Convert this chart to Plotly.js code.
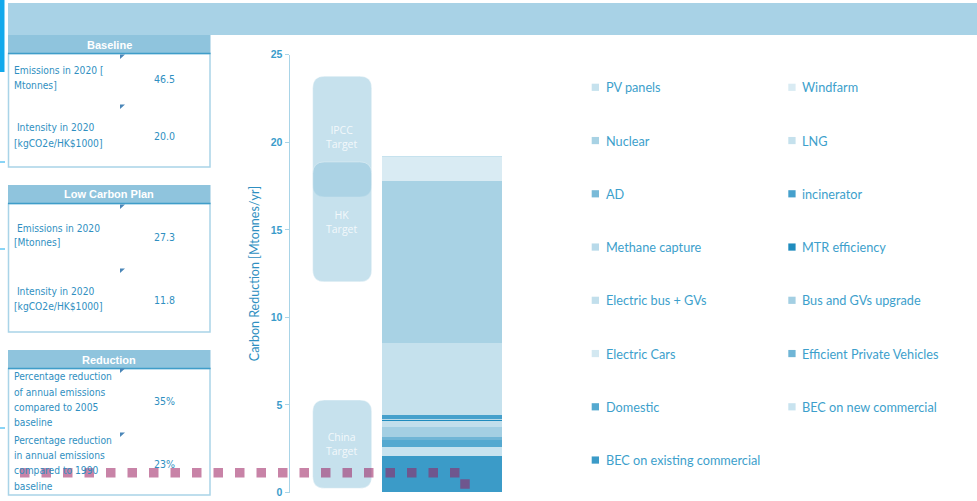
<!DOCTYPE html>
<html><head><meta charset="utf-8">
<script src="https://cdn.plot.ly/plotly-3.0.1.min.js"></script>
<style>html,body{margin:0;padding:0;background:#fff}#chart{width:977px;height:501px}</style>
</head><body><div id="chart"></div>
<script>
// ---- data (legend order: top of stack first) ----
const seriesNames = ["PV panels","Windfarm","Nuclear","LNG","AD","incinerator","Methane capture","MTR efficiency",
  "Electric bus + GVs","Bus and GVs upgrade","Electric Cars","Efficient Private Vehicles","Domestic",
  "BEC on new commercial","BEC on existing commercial"];
const seriesValues = [0.05,1.37,9.25,4.11,0.03,0.21,0.08,0.02,0.34,0.58,0.03,0.15,0.39,0.51,2.10];
const seriesColors = ["#c6e2ee","#d9ebf3","#a8d2e4","#c5e1ed","#79bad8","#45a0cc","#b8daea","#1f8cbe",
  "#c2dfec","#a3cfe3","#d3e8f1","#6fb5d6","#55a9d0","#c8e3ef","#3b9bc8"];
const targetNames = ["IPCC<br>Target","HK<br>Target","China<br>Target"];
const targetLow = [16.88,12.03,0.24];
const targetHigh = [23.77,18.88,5.28];
const yTicks = [0,5,10,15,20,25];
const tableTitles = ["Baseline","Low Carbon Plan","Reduction"];
const tableLabels = [
  [["Emissions in 2020 [","Mtonnes]"],[" Intensity in 2020","[kgCO2e/HK$1000]"]],
  [[" Emissions in 2020","[Mtonnes]"],[" Intensity in 2020","[kgCO2e/HK$1000]"]],
  [["Percentage reduction","of annual emissions","compared to 2005","baseline"],["Percentage reduction","in annual emissions","compared to 1990","baseline"]]
];
const tableValues = [["46.5","20.0"],["27.3","11.8"],["35%","23%"]];
const dashedLevel = 1.13;

// ---- layout helpers ----
const W=977,H=501;
const px = x => x/W, py = y => 1 - y/H;
const shapes=[], annotations=[];
const txtBlue="#3d9fcc";
const tabFont="Liberation Sans Narrow, DejaVu Sans Condensed, sans-serif";

// banner & left accents
shapes.push({type:"rect",xref:"paper",yref:"paper",x0:px(8),x1:px(977),y0:py(35),y1:py(3),fillcolor:"#a8d2e6",line:{width:0}});
shapes.push({type:"rect",xref:"paper",yref:"paper",x0:0,x1:px(4.5),y0:py(72),y1:py(0),fillcolor:"#12a9ec",line:{width:0}});
[162,249,428].forEach(y=>shapes.push({type:"line",xref:"paper",yref:"paper",x0:0,x1:px(5),y0:py(y),y1:py(y),line:{color:"#12a9ec",width:1}}));

// tables
const tabTop=[35,185,350], tabBot=[167,332,495];
const rowY=[[[71,86],[127,143]],[[228,243],[291,306]],[[376,392,407,422],[440,455,470,486]]];
const valY=[[79,136],[237,300],[401,464]];
const triY=[[56,106],[206,270],[370,434]];
for(let t=0;t<3;t++){
  const top=tabTop[t], hb=top+18.5, bot=tabBot[t];
  shapes.push({type:"rect",xref:"paper",yref:"paper",x0:px(8.5),x1:px(210),y0:py(bot),y1:py(hb),fillcolor:"rgba(0,0,0,0)",line:{color:"#a9d4e8",width:1.5}});
  shapes.push({type:"rect",xref:"paper",yref:"paper",x0:px(8),x1:px(210.5),y0:py(hb),y1:py(top),fillcolor:"#8fc4dd",line:{width:0}});
  shapes.push({type:"line",xref:"paper",yref:"paper",x0:px(8),x1:px(210.5),y0:py(hb),y1:py(hb),line:{color:"#3f9dc9",width:1.5}});
  annotations.push({xref:"paper",yref:"paper",x:px(109),y:py(top+9.5),text:"<b>"+tableTitles[t]+"</b>",showarrow:false,
    font:{family:"Liberation Sans, Arial, sans-serif",size:11,color:"#ffffff"},xanchor:"center",yanchor:"middle"});
  for(let r=0;r<2;r++){
    tableLabels[t][r].forEach((line,k)=>{
      annotations.push({xref:"paper",yref:"paper",x:px(12),y:py(rowY[t][r][k]),text:line,showarrow:false,xanchor:"left",yanchor:"middle",
        font:{family:tabFont,size:10.2,color:"#2f8fc1"}});
    });
    annotations.push({xref:"paper",yref:"paper",x:px(164),y:py(valY[t][r]),text:tableValues[t][r],showarrow:false,xanchor:"center",yanchor:"middle",
      font:{family:tabFont,size:10.5,color:"#2f8fc1"}});
    const ty=triY[t][r];
    shapes.push({type:"path",xref:"paper",yref:"paper",path:`M ${px(120)} ${py(ty-1.5)} L ${px(125)} ${py(ty-1.5)} L ${px(120)} ${py(ty+3)} Z`,fillcolor:"#4a86b8",line:{width:0}});
  }
}

// target rounded boxes (data coords)
const bx=0.2965, rx=0.12, ry=0.68;
for(let i=0;i<targetNames.length;i++){
  const x0=-bx,x1=bx,y0=targetLow[i],y1=targetHigh[i];
  const p=`M ${x0+rx},${y0} L ${x1-rx},${y0} Q ${x1},${y0} ${x1},${y0+ry} L ${x1},${y1-ry} Q ${x1},${y1} ${x1-rx},${y1} L ${x0+rx},${y1} Q ${x0},${y1} ${x0},${y1-ry} L ${x0},${y0+ry} Q ${x0},${y0} ${x0+rx},${y0} Z`;
  shapes.push({type:"path",xref:"x",yref:"y",path:p,fillcolor:"rgba(150,200,222,0.54)",line:{color:"rgba(255,255,255,0.4)",width:1},layer:"below"});
  annotations.push({xref:"x",yref:"y",x:0,y:(y0+y1)/2,text:targetNames[i],showarrow:false,
    font:{family:"Open Sans, sans-serif",size:10.5,color:"rgba(255,255,255,0.8)"},align:"center"});
}

// legend (custom two-column)
for(let i=0;i<seriesNames.length;i++){
  const col=i%2,row=Math.floor(i/2);
  const cy=87.3+row*53.25;
  const sx=col===0?591.7:788.3, tx=col===0?604:800;
  shapes.push({type:"rect",xref:"paper",yref:"paper",x0:px(sx),x1:px(sx+7.3),y0:py(cy+3.6),y1:py(cy-3.6),fillcolor:seriesColors[i],line:{width:0}});
  annotations.push({xref:"paper",yref:"paper",x:px(tx),y:py(cy),text:seriesNames[i],showarrow:false,xanchor:"left",yanchor:"middle",
    font:{family:"Lato, sans-serif",size:12.7,color:txtBlue}});
}

// dashed marker line
shapes.push({type:"path",xref:"paper",yref:"y",path:`M ${px(20)},${dashedLevel} L ${px(465)},${dashedLevel} L ${px(465)},-1.5`,
  line:{color:"rgba(155,30,94,0.55)",width:9.5,dash:"9.5px,12px"},layer:"above"});

// bars: stack bottom-up (reverse of legend order)
const traces=[];
for(let i=seriesNames.length-1;i>=0;i--){
  traces.push({type:"bar",x:[1],y:[seriesValues[i]],name:seriesNames[i],width:1.206,
    marker:{color:seriesColors[i],line:{width:0}},showlegend:false,hoverinfo:"name+y"});
}

const layout={
  width:W,height:H,margin:{l:0,r:0,t:0,b:0},paper_bgcolor:"#fff",plot_bgcolor:"rgba(0,0,0,0)",
  barmode:"stack",showlegend:false,
  xaxis:{domain:[px(290),px(560)],range:[-0.5246,2.189],visible:false,fixedrange:true},
  yaxis:{domain:[py(492.5),py(54.7)],range:[0,25],tickvals:yTicks,ticktext:yTicks.map(v=>"<b>"+v+"</b>"),
    showgrid:false,zeroline:false,showline:true,linecolor:"#a9d4e7",linewidth:1.5,
    ticks:"outside",ticklen:4,tickcolor:"#a9d4e7",tickwidth:1,
    tickfont:{family:"Liberation Sans Narrow, Liberation Sans, sans-serif",size:10.5,color:"#3a9ccb"},automargin:false,
    title:{text:"Carbon Reduction [Mtonnes/yr]",font:{family:"Lato, sans-serif",size:12.5,color:"#2f8fc1"},standoff:8}},
  shapes:shapes,annotations:annotations
};
Plotly.newPlot("chart",traces,layout,{displayModeBar:false,staticPlot:true});
</script></body></html>
